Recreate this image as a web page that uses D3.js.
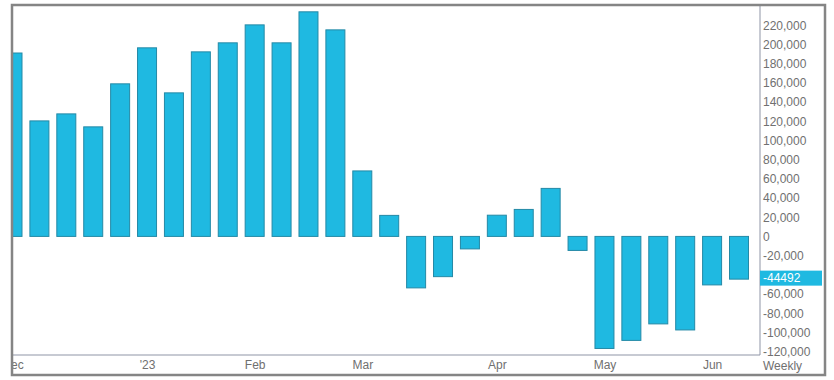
<!DOCTYPE html>
<html>
<head>
<meta charset="utf-8">
<script src="https://cdn.jsdelivr.net/npm/d3@7"></script>
<style>
  body { margin: 0; background: #fff; }
  svg text { font-family: "Liberation Sans", Arial, sans-serif; font-size: 12px; fill: #707070; }
</style>
</head>
<body>
<svg id="chart" width="834" height="380"></svg>
<script>
// weekly bars, first one is the week of 2 Dec 2022
var firstWeek = "2022-12-02";
var weeklyValues = [
    191000, 120300, 127600, 114100, 158900, 196400, 149500, 192200,
    201600, 220300, 201600, 233900, 215100, 68200, 21900, -53600,
    -41900, -13000, 22100, 28100, 50000, -14600, -116700, -108300,
    -91100, -97400, -50500, -44492
];
var tickDates = ["2022-12-02", "2023-01-06", "2023-02-03", "2023-03-03", "2023-04-07", "2023-05-05", "2023-06-02"];
var tickLabels = ["Dec", "'23", "Feb", "Mar", "Apr", "May", "Jun"];
var yTicks = [220000, 200000, 180000, 160000, 140000, 120000, 100000, 80000, 60000, 40000, 20000,
    0, -20000, -40000, -60000, -80000, -100000, -120000];
var periodLabel = "Weekly";

var parse = d3.timeParse("%Y-%m-%d");
var day0 = parse(firstWeek);
var bars = weeklyValues.map((v, i) => ({ date: d3.timeWeek.offset(day0, i), value: v }));

var plot = { left: 12, top: 5, right: 760, bottom: 355 };
var svg = d3.select('#chart');

var x = d3.scaleTime()
    .domain([bars[0].date, bars[bars.length - 1].date])
    .range([12.5, 739]);
var y = d3.scaleLinear()
    .domain([-123500, 241000])
    .range([plot.bottom, plot.top]);
var barW = 19;

var fmt = d3.formatLocale({ decimal: ".", thousands: ",", grouping: [3], currency: ["$", ""], minus: "-" }).format(",");

var defs = svg.append('defs');
defs.append('clipPath')
    .attr('id', 'plotclip')
    .append('rect')
    .attr('x', plot.left + 1)
    .attr('y', plot.top)
    .attr('width', plot.right - plot.left - 1)
    .attr('height', plot.bottom - plot.top);
defs.append('clipPath')
    .attr('id', 'xclip')
    .append('rect')
    .attr('x', plot.left + 1)
    .attr('y', plot.bottom)
    .attr('width', plot.right - plot.left - 1)
    .attr('height', 20);

// bars
svg.append('g')
    .attr('clip-path', 'url(#plotclip)')
    .selectAll('rect')
    .data(bars)
    .enter()
    .append('rect')
    .attr('x', d => x(d.date) - barW / 2)
    .attr('width', barW)
    .attr('y', d => Math.min(y(d.value), y(0)))
    .attr('height', d => Math.abs(y(d.value) - y(0)))
    .attr('fill', '#1fb9e1')
    .attr('stroke', '#2489a6')
    .attr('stroke-width', 1);

// inner divider lines
svg.append('line')
    .attr('x1', plot.left).attr('x2', plot.right)
    .attr('y1', plot.bottom).attr('y2', plot.bottom)
    .attr('stroke', '#8f95a6').attr('stroke-width', 1);
svg.append('line')
    .attr('x1', plot.right).attr('x2', plot.right)
    .attr('y1', plot.top).attr('y2', plot.bottom)
    .attr('stroke', '#8f95a6').attr('stroke-width', 1);

// last value marker position; the tick it covers is not drawn
var last = bars[bars.length - 1];
var ly = y(last.value) - 1;
var shownTicks = yTicks.filter(t => Math.abs(y(t) - ly) > 9);

// right axis
var yAxis = svg.append('g')
    .attr('transform', 'translate(' + plot.right + ',0)')
    .call(d3.axisRight(y).tickValues(shownTicks).tickFormat(fmt).tickSize(0).tickPadding(3));
yAxis.select('.domain').remove();
yAxis.selectAll('text').attr('fill', null);

// bottom axis (outer group clipped so "Dec" is cut at the frame)
var xAxis = svg.append('g')
    .attr('clip-path', 'url(#xclip)')
    .append('g')
    .attr('transform', 'translate(0,' + plot.bottom + ')')
    .call(d3.axisBottom(x).tickValues(tickDates.map(parse))
        .tickFormat((d, i) => tickLabels[i]).tickSize(0).tickPadding(5));
xAxis.select('.domain').remove();
xAxis.selectAll('text').attr('fill', null);

svg.append('text')
    .attr('x', plot.right + 3)
    .attr('y', 370)
    .text(periodLabel);

svg.append('rect')
    .attr('x', plot.right)
    .attr('y', ly - 7.5)
    .attr('width', 62)
    .attr('height', 15)
    .attr('fill', '#1fb9e1');
svg.append('text')
    .attr('x', plot.right + 3)
    .attr('y', ly)
    .attr('dy', '0.35em')
    .style('fill', '#fff')
    .text(last.value);

// outer frame
svg.append('rect')
    .attr('x', 12).attr('y', 5)
    .attr('width', 813).attr('height', 370)
    .attr('fill', 'none')
    .attr('stroke', '#858585')
    .attr('stroke-width', 2.5);
</script>
</body>
</html>
